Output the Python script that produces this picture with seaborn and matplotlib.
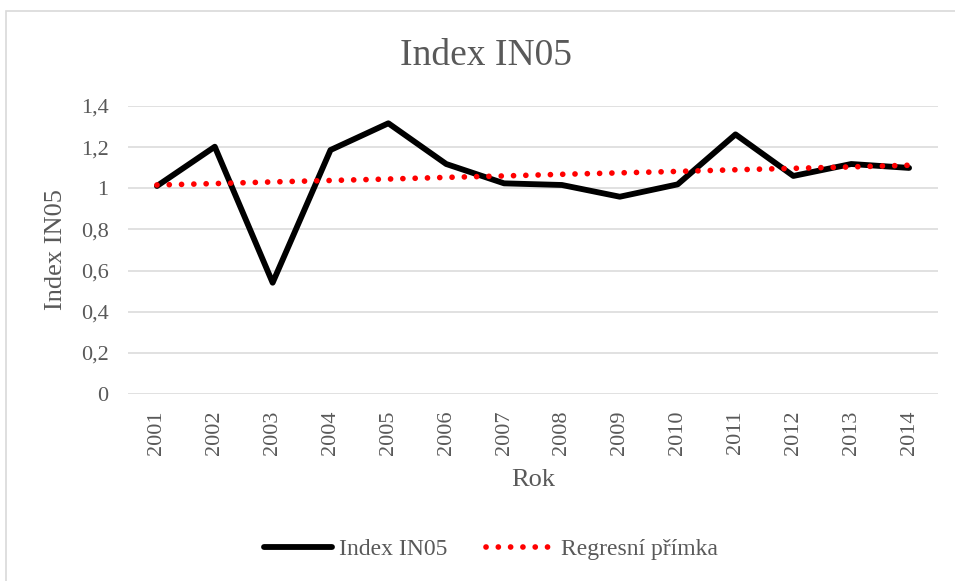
import matplotlib
matplotlib.use("Agg")
import matplotlib.pyplot as plt
import seaborn as sns
import pandas as pd
from matplotlib.patches import Rectangle
from matplotlib.ticker import FixedLocator, FixedFormatter

# Data
years = [2001, 2002, 2003, 2004, 2005, 2006, 2007, 2008, 2009, 2010, 2011, 2012, 2013, 2014]
index_in05 = [1.011, 1.202, 0.541, 1.186, 1.316, 1.118, 1.024, 1.016, 0.959, 1.019, 1.262, 1.060, 1.118, 1.099]
regrese = [1.016, 1.023, 1.031, 1.038, 1.045, 1.053, 1.060, 1.068, 1.075, 1.082, 1.090, 1.097, 1.104, 1.112]
y_ticks = [0, 0.2, 0.4, 0.6, 0.8, 1.0, 1.2, 1.4]
y_tick_labels = ["0", "0,2", "0,4", "0,6", "0,8", "1", "1,2", "1,4"]

df = pd.DataFrame({"Rok": years, "Index IN05": index_in05, "Regresní přímka": regrese})

sns.set_style("white")
plt.rcParams["font.family"] = ["Liberation Serif", "DejaVu Serif"]

W, H = 955, 581
fig = plt.figure(figsize=(W / 100, H / 100), dpi=100)
ax = fig.add_axes([128 / W, 1 - 394 / H, 810 / W, 288 / H])

grey = "#595959"
dots = (0.01, 2.15)

sns.lineplot(data=df, x="Rok", y="Index IN05", ax=ax, color="black", linewidth=4.2,
             label="Index IN05", zorder=3)
sns.lineplot(data=df, x="Rok", y="Regresní přímka", ax=ax, color="#ff0000", linewidth=4.1,
             label="Regresní přímka", zorder=4)
ax.lines[0].set_solid_joinstyle("round")
ax.lines[0].set_solid_capstyle("round")
ax.lines[1].set_dashes(dots)
ax.lines[1].set_dash_capstyle("round")

ax.set_xlim(years[0] - 0.5, years[-1] + 0.5)
ax.set_ylim(0, 1.4)
ax.xaxis.set_major_locator(FixedLocator(years))
ax.xaxis.set_major_formatter(FixedFormatter([str(y) for y in years]))
ax.yaxis.set_major_locator(FixedLocator(y_ticks))
ax.yaxis.set_major_formatter(FixedFormatter(y_tick_labels))

ax.grid(axis="y", color="#d9d9d9", linewidth=1.1, zorder=0)
ax.grid(axis="x", visible=False)
for s in ax.spines.values():
    s.set_visible(False)

ax.tick_params(axis="y", length=0, pad=14, labelsize=16, labelcolor=grey)
ax.tick_params(axis="x", length=0, pad=12, labelsize=16, labelcolor=grey, labelrotation=90)

ax.set_xlabel("Rok", fontsize=19, color=grey, va="center")
ax.xaxis.set_label_coords(0.5, -0.299)
ax.set_ylabel("Index IN05", fontsize=19, color=grey, va="center")
ax.yaxis.set_label_coords(-0.089, 0.5)

fig.text(486 / W, 1 - 56 / H, "Index IN05", fontsize=27, color=grey, ha="center", va="center")

ax.legend_.remove()
handles, labels = ax.get_legend_handles_labels()
leg = fig.legend(handles, labels, loc="center", bbox_to_anchor=(491 / W, 1 - 549 / H), ncol=2,
                 frameon=False, fontsize=17, handlelength=2.9, handletextpad=0.3,
                 columnspacing=1.6, labelcolor=grey)
leg.legend_handles[1].set_dashes(dots)
leg.legend_handles[1].set_dash_capstyle("round")

# chart area border
fig.patches.append(Rectangle((6 / W, -0.1), 1.1, 1.1 - 10.5 / H, transform=fig.transFigure,
                             fill=False, edgecolor="#d9d9d9", linewidth=1.2))

fig.savefig("out.png", dpi=100)
